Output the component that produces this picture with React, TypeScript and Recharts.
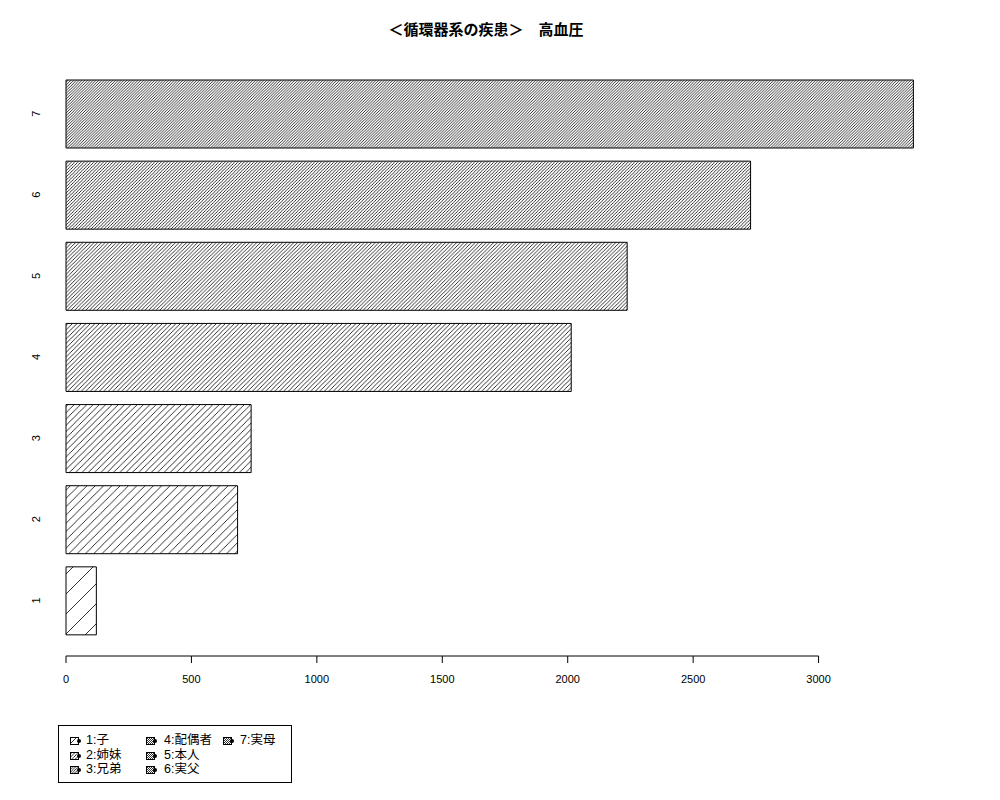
import { BarChart, Bar, XAxis, YAxis, Cell } from "recharts"

// data
const categories = ["1", "2", "3", "4", "5", "6", "7"]
const values = [121, 684, 738, 2014, 2237, 2729, 3378]
const legendLabels = ["1:子", "2:姉妹", "3:兄弟", "4:配偶者", "5:本人", "6:実父", "7:実母"]
const xTicks = [0, 500, 1000, 1500, 2000, 2500, 3000]
const title = "＜循環器系の疾患＞　高血圧"

// hatch line spacing per bar (px)
const hatchSpacing = [20, 8.3, 6.3, 4.5, 3.7, 3.2, 2.8]

const W = 1000
const H = 800
const margin = { top: 55, right: 56, bottom: 104, left: 26 }
const yAxisWidth = 40
const xAxisHeight = 40
const xMax = 3500
const plotLeft = margin.left + yAxisWidth
const plotWidth = W - plotLeft - margin.right
const axisY = H - margin.bottom - xAxisHeight
const pxPerUnit = plotWidth / xMax

const data = categories.map((c, i) => ({ cat: c, value: values[i] }))

const font = "'Liberation Sans', Arimo, 'DejaVu Sans', sans-serif"
const cjk = "'Liberation Sans', 'Noto Sans CJK JP', sans-serif"

function XTick(props: any) {
  const { x, payload, index } = props
  const step = index > 0 ? (payload.value - xTicks[index - 1]) * pxPerUnit : 0
  return (
    <g>
      {index > 0 && <line x1={x - step} x2={x} y1={axisY} y2={axisY} stroke="#000" strokeWidth={1} />}
      <line x1={x} x2={x} y1={axisY} y2={axisY + 7} stroke="#000" strokeWidth={1} />
      <text x={x} y={axisY + 27} textAnchor="middle" fontSize={11} fontFamily={font} fill="#000">
        {payload.value}
      </text>
    </g>
  )
}

function YTick(props: any) {
  const { y, payload } = props
  return (
    <text
      x={0}
      y={0}
      transform={`translate(40, ${y}) rotate(-90)`}
      textAnchor="middle"
      fontSize={11}
      fontFamily={font}
      fill="#000"
    >
      {payload.value}
    </text>
  )
}

function HatchIcon({ i }: { i: number }) {
  const s = Math.max(2, hatchSpacing[i] / 2.5)
  return (
    <svg width={12} height={10} style={{ display: "block" }}>
      <defs>
        <pattern id={`lg${i}`} patternUnits="userSpaceOnUse" width={s} height={s}>
          <path d={`M0,${s} L${s},0`} stroke="#000" strokeWidth={0.8} />
        </pattern>
      </defs>
      <rect x={0.5} y={1.5} width={8} height={7} fill={`url(#lg${i})`} stroke="#000" strokeWidth={1} />
      <circle cx={9} cy={5} r={2} fill="#000" />
    </svg>
  )
}

const legendCols = [
  { icon: 11, text: 27 },
  { icon: 87, text: 105 },
  { icon: 164, text: 181 },
]

export default function App() {
  return (
    <div style={{ position: "absolute", left: 0, top: 0, width: W, height: H, background: "#fff" }}>
      <div
        style={{
          position: "absolute",
          left: 0,
          width: 972,
          top: 18,
          textAlign: "center",
          fontFamily: cjk,
          fontWeight: "bold",
          fontSize: 15,
          color: "#000",
        }}
      >
        {title}
      </div>
      <BarChart width={W} height={H} data={data} layout="vertical" margin={margin}>
        <defs>
          {hatchSpacing.map((s, i) => (
            <pattern key={i} id={`hatch${i}`} patternUnits="userSpaceOnUse" width={s} height={s}>
              <rect width={s} height={s} fill="#fff" />
              <path
                d={`M0,${s} L${s},0 M${-s / 2},${s / 2} L${s / 2},${-s / 2} M${s / 2},${s * 1.5} L${s * 1.5},${s / 2}`}
                stroke="#000"
                strokeWidth={0.8}
              />
            </pattern>
          ))}
        </defs>
        <XAxis
          type="number"
          domain={[0, xMax]}
          ticks={xTicks}
          axisLine={false}
          tickLine={false}
          height={xAxisHeight}
          tick={<XTick />}
        />
        <YAxis
          type="category"
          dataKey="cat"
          reversed
          width={yAxisWidth}
          axisLine={false}
          tickLine={false}
          padding={{ top: 18, bottom: 15 }}
          tick={<YTick />}
        />
        <Bar dataKey="value" barSize={68} stroke="#000" strokeWidth={1} isAnimationActive={false}>
          {data.map((d, i) => (
            <Cell key={d.cat} fill={`url(#hatch${i})`} />
          ))}
        </Bar>
      </BarChart>
      <div
        style={{
          position: "absolute",
          left: 58,
          top: 725,
          width: 232,
          height: 56,
          border: "1px solid #000",
          fontFamily: cjk,
          fontSize: 12.5,
          color: "#000",
        }}
      >
        {legendLabels.map((label, i) => {
          const col = legendCols[Math.floor(i / 3)]
          const row = i % 3
          return (
            <div key={label}>
              <div style={{ position: "absolute", left: col.icon, top: 10 + row * 14.5 }}>
                <HatchIcon i={i} />
              </div>
              <div style={{ position: "absolute", left: col.text, top: 7 + row * 14.5, lineHeight: "15px", whiteSpace: "nowrap" }}>
                {label}
              </div>
            </div>
          )
        })}
      </div>
    </div>
  )
}
